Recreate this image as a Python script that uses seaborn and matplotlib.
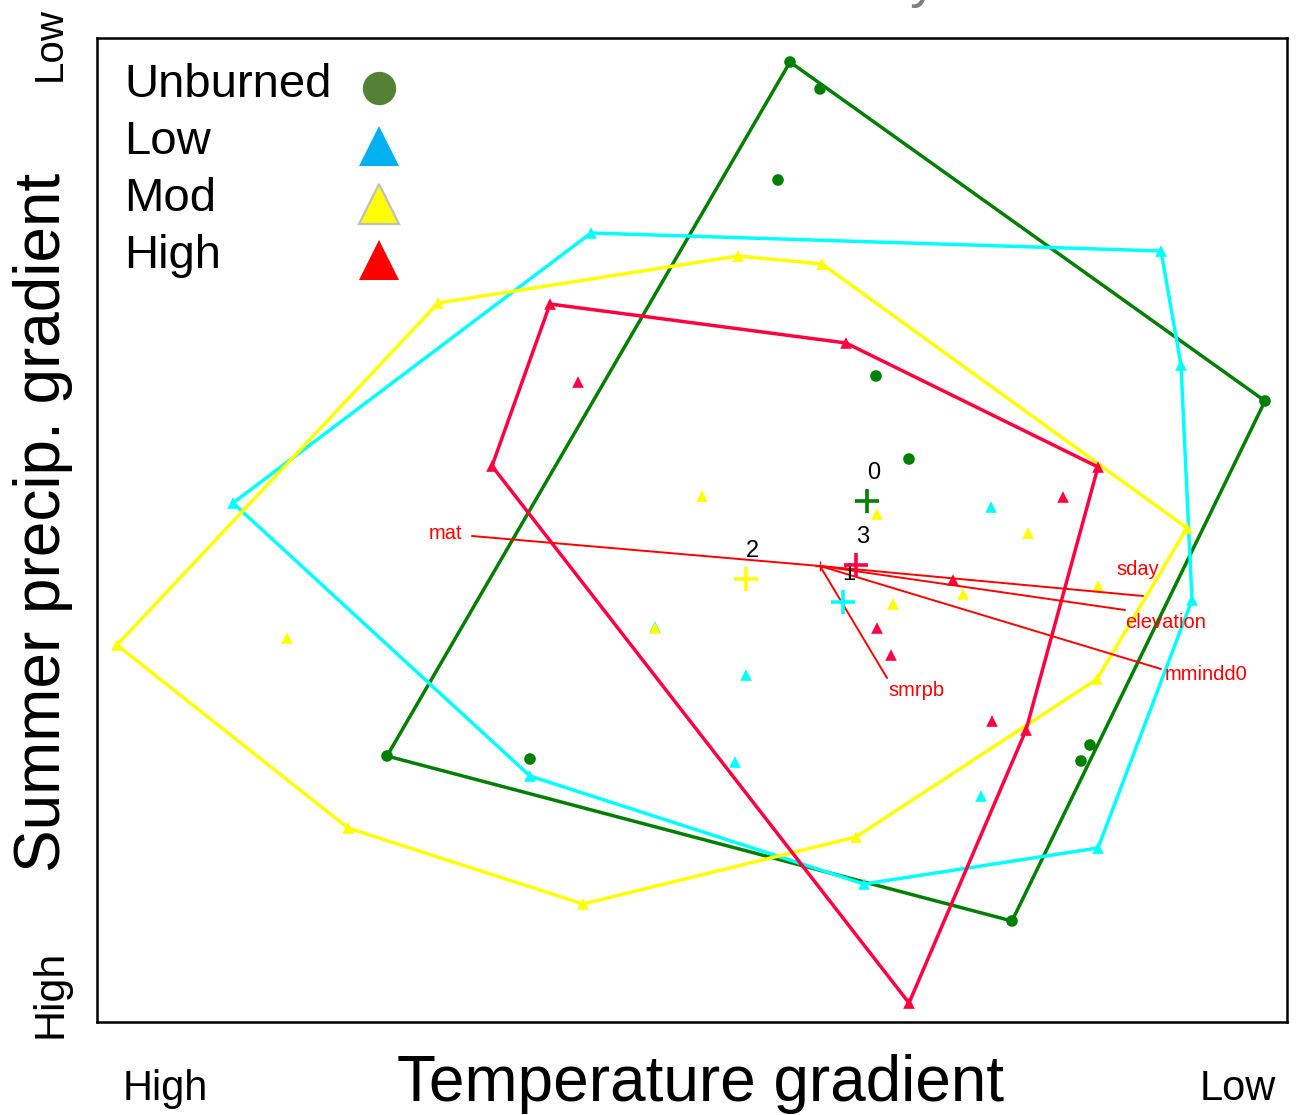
import numpy as np
import pandas as pd
import matplotlib
matplotlib.use("Agg")
import matplotlib.pyplot as plt
import seaborn as sns

sns.set_theme(style="white")
plt.rcParams['font.family'] = ['Liberation Sans', 'DejaVu Sans']
plt.rcParams['text.color'] = 'black'

# NMS site scores by burn severity
# axis 1 = temperature gradient, axis 2 = summer precipitation gradient
unburned_x = [-0.30, 0.00, -0.42, 0.56, 0.89, 4.45, 2.70, 2.61, 1.92, -2.90, -4.33]
unburned_y = [5.04, 4.77, 3.86, 1.90, 1.07, 1.65, -1.79, -1.95, -3.55, -1.93, -1.90]

low_x = [-2.29, 3.41, 3.61, 3.72, 2.78, 0.44, -2.90, -5.87, 1.71, -0.74, -0.85, 1.61, -1.65]
low_y = [3.33, 3.15, 2.01, -0.34, -2.82, -3.18, -2.10, 0.63, 0.59, -1.09, -1.96, -2.30, -0.61]

mod_x = [-3.82, -0.82, 0.02, 3.67, 2.77, 0.36, -2.37, -4.72, -7.03,
         -1.18, 0.57, 2.08, 2.78, 1.43, 0.73, -5.33, -1.65]
mod_y = [2.63, 3.10, 3.02, 0.38, -1.13, -2.71, -3.38, -2.62, -0.79,
         0.70, 0.52, 0.33, -0.20, -0.28, -0.38, -0.72, -0.62]

high_x = [-2.70, 0.26, 2.78, 2.06, 0.89, -3.28, -2.42, 2.43, 1.33, 0.57, 0.71, 1.72]
high_y = [2.62, 2.23, 0.99, -1.64, -4.37, 1.00, 1.84, 0.69, -0.14, -0.62, -0.89, -1.55]

group_codes = {"Unburned": 0, "Low": 1, "Mod": 2, "High": 3}

# Environmental vectors (joint plot)
vector_names = ["mat", "sday", "elevation", "mmindd0", "smrpb"]
vector_x = [-3.48, 3.23, 3.05, 3.41, 0.67]
vector_y = [0.30, -0.30, -0.44, -1.03, -1.12]

corner_x = ["High", "Low"]
corner_y = ["Low", "High"]

df = pd.concat([
    pd.DataFrame({"ax1": unburned_x, "ax2": unburned_y, "severity": "Unburned"}),
    pd.DataFrame({"ax1": low_x, "ax2": low_y, "severity": "Low"}),
    pd.DataFrame({"ax1": mod_x, "ax2": mod_y, "severity": "Mod"}),
    pd.DataFrame({"ax1": high_x, "ax2": high_y, "severity": "High"}),
], ignore_index=True)

plot_colors = {"Unburned": "#007F00", "Low": "#00FFFF", "Mod": "#FFFF00", "High": "#FF0040"}
plot_markers = {"Unburned": "o", "Low": "^", "Mod": "^", "High": "^"}
key_colors = {"Unburned": "#538135", "Low": "#00B0F0", "Mod": "#FFFF00", "High": "#FF0000"}


def convex_hull(pts):
    pts = sorted(set(map(tuple, pts)))

    def cross(o, a, b):
        return (a[0] - o[0]) * (b[1] - o[1]) - (a[1] - o[1]) * (b[0] - o[0])

    lower, upper = [], []
    for p in pts:
        while len(lower) >= 2 and cross(lower[-2], lower[-1], p) <= 0:
            lower.pop()
        lower.append(p)
    for p in reversed(pts):
        while len(upper) >= 2 and cross(upper[-2], upper[-1], p) <= 0:
            upper.pop()
        upper.append(p)
    hull = lower[:-1] + upper[:-1]
    return np.array(hull + [hull[0]])


W, H = 1297, 1115
fig = plt.figure(figsize=(W / 100, H / 100), dpi=100)
fig.patch.set_facecolor("white")
ax = fig.add_axes([97 / W, 1 - 1022 / H, 1190 / W, 984 / H])
ax.set_facecolor("white")

# convex hulls around each severity class
for sev in group_codes:
    sub = df[df.severity == sev]
    hull = convex_hull(sub[["ax1", "ax2"]].values)
    ax.plot(hull[:, 0], hull[:, 1], color=plot_colors[sev], lw=2.5, zorder=2,
            solid_joinstyle="miter")

# site points
sns.scatterplot(data=df, x="ax1", y="ax2", hue="severity", style="severity",
                palette=plot_colors, markers=plot_markers, s=70, linewidth=0,
                legend=False, ax=ax, zorder=3)

# environmental vectors
ax.plot(0, 0, marker="+", color="#FF0000", ms=7, mew=1, zorder=4)
label_style = {
    "mat": dict(xytext=(-7, 2), ha="right"),
    "sday": dict(xytext=(-4, 19), ha="center"),
    "elevation": dict(xytext=(0, -9), ha="left"),
    "mmindd0": dict(xytext=(3, -4), ha="left"),
    "smrpb": dict(xytext=(1, -9), ha="left"),
}
for name, vx, vy in zip(vector_names, vector_x, vector_y):
    ax.plot([0, vx], [0, vy], color="#FF0000", lw=1.4, zorder=4)
    st = label_style[name]
    ax.annotate(name, (vx, vy), xytext=st["xytext"], textcoords="offset points",
                ha=st["ha"], va="center", color="#FF0000", fontsize=14.5, zorder=5)

# group centroids
cent = df.groupby("severity", sort=False)[["ax1", "ax2"]].mean()
for sev, row in cent.iterrows():
    ax.plot(row.ax1, row.ax2, marker="+", color=plot_colors[sev], ms=17, mew=2.6, zorder=6)
    ax.annotate(str(group_codes[sev]), (row.ax1, row.ax2), xytext=(4.5, 20),
                textcoords="offset points", ha="center", va="center",
                fontsize=17, color="black", zorder=6)

ax.set_xlim(-7.23, 4.67)
ax.set_ylim(-4.56, 5.28)
ax.set_xticks([])
ax.set_yticks([])
ax.set_xlabel("")
ax.set_ylabel("")
for sp in ax.spines.values():
    sp.set_visible(True)
    sp.set_color("black")
    sp.set_linewidth(1.8)


# key in the upper-left corner
def ax_pt(px, py):
    return (px - 97) / 1190, (1022 - py) / 984


key_rows = [("Unburned", 97, 88), ("Low", 154, 146), ("Mod", 211, 204), ("High", 268, 260)]
for sev, base_py, mark_py in key_rows:
    tx, ty = ax_pt(124, base_py)
    ax.text(tx, ty, sev, transform=ax.transAxes, fontsize=34, va="baseline",
            ha="left", color="black", zorder=7)
    mx, my = ax_pt(379, mark_py)
    if sev == "Unburned":
        ax.plot(mx, my, marker="o", ms=24, color=key_colors[sev], mew=0,
                transform=ax.transAxes, clip_on=False, zorder=7)
    else:
        edge = "#BFBFBF" if sev == "Mod" else key_colors[sev]
        ax.plot(mx, my, marker="^", ms=29, color=key_colors[sev], mec=edge,
                mew=1.6 if sev == "Mod" else 0, transform=ax.transAxes,
                clip_on=False, zorder=7)

# axis titles and gradient end labels
fig.text(700 / W, 1 - 1101 / H, "Temperature gradient", fontsize=46,
         ha="center", va="baseline")
fig.text(60 / W, 1 - 522 / H, "Summer precip. gradient", fontsize=46,
         rotation=90, rotation_mode="anchor", ha="center", va="baseline")
fig.text(165 / W, 1 - 1100 / H, corner_x[0], fontsize=30, ha="center", va="baseline")
fig.text(1238 / W, 1 - 1100 / H, corner_x[1], fontsize=30, ha="center", va="baseline")
fig.text(61 / W, 1 - 44 / H, corner_y[0], fontsize=29, rotation=90,
         rotation_mode="anchor", ha="center", va="baseline")
fig.text(61 / W, 1 - 994 / H, corner_y[1], fontsize=31, rotation=90,
         rotation_mode="anchor", ha="center", va="baseline")
fig.text(924 / W, 1 + 4 / H, "y", fontsize=40, color="#808080",
         ha="center", va="baseline")

fig.savefig("out.png", dpi=100)
